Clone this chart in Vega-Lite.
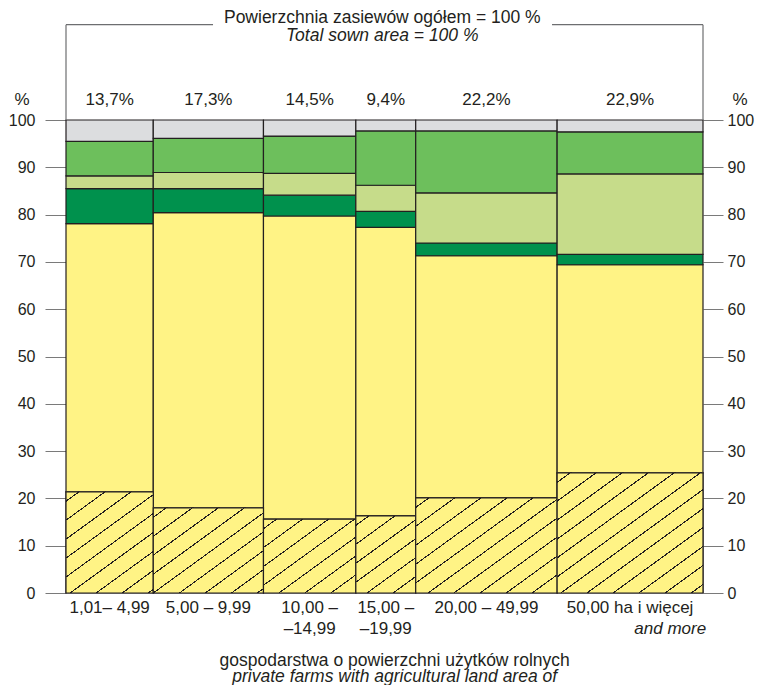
{
  "$schema": "https://vega.github.io/schema/vega-lite/v6.json",
  "width": 637,
  "height": 473,
  "autosize": {"type": "none"},
  "padding": {"left": 66, "top": 120, "right": 60, "bottom": 92},
  "background": "white",
  "config": {
    "view": {"stroke": null},
    "locale": {"number": {"decimal": ",", "thousands": " ", "grouping": [3], "currency": ["", " zł"]}},
    "text": {"font": "Liberation Sans", "fontSize": 17, "color": "#231f20"},
    "axis": {"labelFont": "Liberation Sans", "labelFontSize": 16, "labelColor": "#231f20"}
  },
  "datasets": {
    "farms": [
      {"farm": "1,01– 4,99", "order": 1, "share": 0.137, "cat": "pszenica", "corder": 1, "val": 21.4},
      {"farm": "1,01– 4,99", "order": 1, "share": 0.137, "cat": "pozostałe zboża", "corder": 2, "val": 56.7},
      {"farm": "1,01– 4,99", "order": 1, "share": 0.137, "cat": "ziemniaki", "corder": 3, "val": 7.4},
      {"farm": "1,01– 4,99", "order": 1, "share": 0.137, "cat": "przemysłowe", "corder": 4, "val": 2.7},
      {"farm": "1,01– 4,99", "order": 1, "share": 0.137, "cat": "pastewne", "corder": 5, "val": 7.3},
      {"farm": "1,01– 4,99", "order": 1, "share": 0.137, "cat": "pozostałe", "corder": 6, "val": 4.5},
      {"farm": "5,00 – 9,99", "order": 2, "share": 0.173, "cat": "pszenica", "corder": 1, "val": 18.0},
      {"farm": "5,00 – 9,99", "order": 2, "share": 0.173, "cat": "pozostałe zboża", "corder": 2, "val": 62.4},
      {"farm": "5,00 – 9,99", "order": 2, "share": 0.173, "cat": "ziemniaki", "corder": 3, "val": 5.1},
      {"farm": "5,00 – 9,99", "order": 2, "share": 0.173, "cat": "przemysłowe", "corder": 4, "val": 3.4},
      {"farm": "5,00 – 9,99", "order": 2, "share": 0.173, "cat": "pastewne", "corder": 5, "val": 7.2},
      {"farm": "5,00 – 9,99", "order": 2, "share": 0.173, "cat": "pozostałe", "corder": 6, "val": 3.9},
      {"farm": "10,00 –\n–14,99", "order": 3, "share": 0.145, "cat": "pszenica", "corder": 1, "val": 15.6},
      {"farm": "10,00 –\n–14,99", "order": 3, "share": 0.145, "cat": "pozostałe zboża", "corder": 2, "val": 64.1},
      {"farm": "10,00 –\n–14,99", "order": 3, "share": 0.145, "cat": "ziemniaki", "corder": 3, "val": 4.4},
      {"farm": "10,00 –\n–14,99", "order": 3, "share": 0.145, "cat": "przemysłowe", "corder": 4, "val": 4.6},
      {"farm": "10,00 –\n–14,99", "order": 3, "share": 0.145, "cat": "pastewne", "corder": 5, "val": 7.9},
      {"farm": "10,00 –\n–14,99", "order": 3, "share": 0.145, "cat": "pozostałe", "corder": 6, "val": 3.4},
      {"farm": "15,00 –\n–19,99", "order": 4, "share": 0.094, "cat": "pszenica", "corder": 1, "val": 16.3},
      {"farm": "15,00 –\n–19,99", "order": 4, "share": 0.094, "cat": "pozostałe zboża", "corder": 2, "val": 61.0},
      {"farm": "15,00 –\n–19,99", "order": 4, "share": 0.094, "cat": "ziemniaki", "corder": 3, "val": 3.4},
      {"farm": "15,00 –\n–19,99", "order": 4, "share": 0.094, "cat": "przemysłowe", "corder": 4, "val": 5.5},
      {"farm": "15,00 –\n–19,99", "order": 4, "share": 0.094, "cat": "pastewne", "corder": 5, "val": 11.5},
      {"farm": "15,00 –\n–19,99", "order": 4, "share": 0.094, "cat": "pozostałe", "corder": 6, "val": 2.3},
      {"farm": "20,00 – 49,99", "order": 5, "share": 0.222, "cat": "pszenica", "corder": 1, "val": 20.1},
      {"farm": "20,00 – 49,99", "order": 5, "share": 0.222, "cat": "pozostałe zboża", "corder": 2, "val": 51.2},
      {"farm": "20,00 – 49,99", "order": 5, "share": 0.222, "cat": "ziemniaki", "corder": 3, "val": 2.7},
      {"farm": "20,00 – 49,99", "order": 5, "share": 0.222, "cat": "przemysłowe", "corder": 4, "val": 10.6},
      {"farm": "20,00 – 49,99", "order": 5, "share": 0.222, "cat": "pastewne", "corder": 5, "val": 13.1},
      {"farm": "20,00 – 49,99", "order": 5, "share": 0.222, "cat": "pozostałe", "corder": 6, "val": 2.3},
      {"farm": "50,00 ha i więcej", "order": 6, "share": 0.229, "cat": "pszenica", "corder": 1, "val": 25.4},
      {"farm": "50,00 ha i więcej", "order": 6, "share": 0.229, "cat": "pozostałe zboża", "corder": 2, "val": 44.0},
      {"farm": "50,00 ha i więcej", "order": 6, "share": 0.229, "cat": "ziemniaki", "corder": 3, "val": 2.2},
      {"farm": "50,00 ha i więcej", "order": 6, "share": 0.229, "cat": "przemysłowe", "corder": 4, "val": 17.0},
      {"farm": "50,00 ha i więcej", "order": 6, "share": 0.229, "cat": "pastewne", "corder": 5, "val": 8.9},
      {"farm": "50,00 ha i więcej", "order": 6, "share": 0.229, "cat": "pozostałe", "corder": 6, "val": 2.5}
    ]
  },
  "resolve": {"axis": {"y": "independent"}},
  "layer": [
    {
      "data": {"name": "farms"},
      "transform": [
        {"stack": "share", "groupby": ["cat"], "sort": [{"field": "order"}], "as": ["x0", "x1"]},
        {"stack": "val", "groupby": ["farm"], "sort": [{"field": "corder"}], "as": ["y0", "y1"]},
        {"calculate": "(datum.x0 + datum.x1) / 2", "as": "xm"}
      ],
      "resolve": {"axis": {"y": "independent"}},
      "layer": [
        {
          "mark": {"type": "bar", "stroke": "#231f20", "strokeWidth": 1.2},
          "encoding": {
            "x": {"field": "x0", "type": "quantitative", "scale": {"domain": [0, 1], "nice": false}, "axis": null},
            "x2": {"field": "x1"},
            "y": {"field": "y0", "type": "quantitative", "scale": {"domain": [0, 100], "nice": false},
                  "axis": {"orient": "left", "values": [0, 10, 20, 30, 40, 50, 60, 70, 80, 90, 100], "title": null, "domain": false, "grid": false, "tickSize": 21, "tickColor": "#7a7a7a", "labelPadding": 10}},
            "y2": {"field": "y1"},
            "color": {"field": "cat", "type": "nominal", "legend": null,
                      "scale": {"domain": ["pszenica", "pozostałe zboża", "ziemniaki", "przemysłowe", "pastewne", "pozostałe"],
                                "range": ["#fff385", "#fff385", "#00914d", "#c6dc8a", "#6dbf5c", "#dcdddf"]}},
            "opacity": {"value": 1}
          }
        },
        {
          "transform": [{"filter": "datum.cat === 'pszenica' && datum.order === 1"}],
          "mark": {"type": "bar", "stroke": "#231f20", "strokeWidth": 1.2,
            "fill": {"gradient": "linear", "x1": 0, "y1": 0, "x2": 0.7325, "y2": 1.168, "stops": [
              {"offset": 0, "color": "#fff385"},
              {"offset": 0.0535, "color": "#fff385"}, {"offset": 0.0535, "color": "#231f20"}, {"offset": 0.0615, "color": "#231f20"}, {"offset": 0.0615, "color": "#fff385"},
              {"offset": 0.1685, "color": "#fff385"}, {"offset": 0.1685, "color": "#231f20"}, {"offset": 0.1765, "color": "#231f20"}, {"offset": 0.1765, "color": "#fff385"},
              {"offset": 0.2835, "color": "#fff385"}, {"offset": 0.2835, "color": "#231f20"}, {"offset": 0.2915, "color": "#231f20"}, {"offset": 0.2915, "color": "#fff385"},
              {"offset": 0.3985, "color": "#fff385"}, {"offset": 0.3985, "color": "#231f20"}, {"offset": 0.4065, "color": "#231f20"}, {"offset": 0.4065, "color": "#fff385"},
              {"offset": 0.5135, "color": "#fff385"}, {"offset": 0.5135, "color": "#231f20"}, {"offset": 0.5215, "color": "#231f20"}, {"offset": 0.5215, "color": "#fff385"},
              {"offset": 0.6285, "color": "#fff385"}, {"offset": 0.6285, "color": "#231f20"}, {"offset": 0.6365, "color": "#231f20"}, {"offset": 0.6365, "color": "#fff385"},
              {"offset": 0.7435, "color": "#fff385"}, {"offset": 0.7435, "color": "#231f20"}, {"offset": 0.7515, "color": "#231f20"}, {"offset": 0.7515, "color": "#fff385"},
              {"offset": 0.8585, "color": "#fff385"}, {"offset": 0.8585, "color": "#231f20"}, {"offset": 0.8665, "color": "#231f20"}, {"offset": 0.8665, "color": "#fff385"},
              {"offset": 0.9735, "color": "#fff385"}, {"offset": 0.9735, "color": "#231f20"}, {"offset": 0.9815, "color": "#231f20"}, {"offset": 0.9815, "color": "#fff385"},
              {"offset": 1, "color": "#fff385"}
            ]}},
          "encoding": {
            "x": {"field": "x0", "type": "quantitative"},
            "x2": {"field": "x1"},
            "y": {"field": "y0", "type": "quantitative",
                  "axis": {"orient": "right", "values": [0, 10, 20, 30, 40, 50, 60, 70, 80, 90, 100], "title": null, "domain": false, "grid": false, "tickSize": 20, "tickColor": "#7a7a7a", "labelPadding": 4}},
            "y2": {"field": "y1"}
          }
        },
        {
          "transform": [{"filter": "datum.cat === 'pszenica' && datum.order === 2"}],
          "mark": {"type": "bar", "stroke": "#231f20", "strokeWidth": 1.2,
            "fill": {"gradient": "linear", "x1": 0, "y1": 0, "x2": 0.969, "y2": 1.029, "stops": [
              {"offset": 0, "color": "#fff385"},
              {"offset": 0.053, "color": "#fff385"}, {"offset": 0.053, "color": "#231f20"}, {"offset": 0.061, "color": "#231f20"}, {"offset": 0.061, "color": "#fff385"},
              {"offset": 0.168, "color": "#fff385"}, {"offset": 0.168, "color": "#231f20"}, {"offset": 0.176, "color": "#231f20"}, {"offset": 0.176, "color": "#fff385"},
              {"offset": 0.282, "color": "#fff385"}, {"offset": 0.282, "color": "#231f20"}, {"offset": 0.290, "color": "#231f20"}, {"offset": 0.290, "color": "#fff385"},
              {"offset": 0.397, "color": "#fff385"}, {"offset": 0.397, "color": "#231f20"}, {"offset": 0.405, "color": "#231f20"}, {"offset": 0.405, "color": "#fff385"},
              {"offset": 0.511, "color": "#fff385"}, {"offset": 0.511, "color": "#231f20"}, {"offset": 0.519, "color": "#231f20"}, {"offset": 0.519, "color": "#fff385"},
              {"offset": 0.626, "color": "#fff385"}, {"offset": 0.626, "color": "#231f20"}, {"offset": 0.634, "color": "#231f20"}, {"offset": 0.634, "color": "#fff385"},
              {"offset": 0.740, "color": "#fff385"}, {"offset": 0.740, "color": "#231f20"}, {"offset": 0.748, "color": "#231f20"}, {"offset": 0.748, "color": "#fff385"},
              {"offset": 0.855, "color": "#fff385"}, {"offset": 0.855, "color": "#231f20"}, {"offset": 0.863, "color": "#231f20"}, {"offset": 0.863, "color": "#fff385"},
              {"offset": 0.969, "color": "#fff385"}, {"offset": 0.969, "color": "#231f20"}, {"offset": 0.977, "color": "#231f20"}, {"offset": 0.977, "color": "#fff385"},
              {"offset": 1, "color": "#fff385"}
            ]}},
          "encoding": {
            "x": {"field": "x0", "type": "quantitative"},
            "x2": {"field": "x1"},
            "y": {"field": "y0", "type": "quantitative", "axis": null},
            "y2": {"field": "y1"}
          }
        },
        {
          "transform": [{"filter": "datum.cat === 'pszenica' && datum.order === 3"}],
          "mark": {"type": "bar", "stroke": "#231f20", "strokeWidth": 1.2,
            "fill": {"gradient": "linear", "x1": 0, "y1": 0, "x2": 0.951, "y2": 1.045, "stops": [
              {"offset": 0, "color": "#fff385"},
              {"offset": 0.0625, "color": "#fff385"}, {"offset": 0.0625, "color": "#231f20"}, {"offset": 0.0715, "color": "#231f20"}, {"offset": 0.0715, "color": "#fff385"},
              {"offset": 0.1965, "color": "#fff385"}, {"offset": 0.1965, "color": "#231f20"}, {"offset": 0.2055, "color": "#231f20"}, {"offset": 0.2055, "color": "#fff385"},
              {"offset": 0.3305, "color": "#fff385"}, {"offset": 0.3305, "color": "#231f20"}, {"offset": 0.3395, "color": "#231f20"}, {"offset": 0.3395, "color": "#fff385"},
              {"offset": 0.4645, "color": "#fff385"}, {"offset": 0.4645, "color": "#231f20"}, {"offset": 0.4735, "color": "#231f20"}, {"offset": 0.4735, "color": "#fff385"},
              {"offset": 0.5985, "color": "#fff385"}, {"offset": 0.5985, "color": "#231f20"}, {"offset": 0.6075, "color": "#231f20"}, {"offset": 0.6075, "color": "#fff385"},
              {"offset": 0.7325, "color": "#fff385"}, {"offset": 0.7325, "color": "#231f20"}, {"offset": 0.7415, "color": "#231f20"}, {"offset": 0.7415, "color": "#fff385"},
              {"offset": 0.8665, "color": "#fff385"}, {"offset": 0.8665, "color": "#231f20"}, {"offset": 0.8755, "color": "#231f20"}, {"offset": 0.8755, "color": "#fff385"},
              {"offset": 1, "color": "#fff385"}
            ]}},
          "encoding": {
            "x": {"field": "x0", "type": "quantitative"},
            "x2": {"field": "x1"},
            "y": {"field": "y0", "type": "quantitative", "axis": null},
            "y2": {"field": "y1"}
          }
        },
        {
          "transform": [{"filter": "datum.cat === 'pszenica' && datum.order === 4"}],
          "mark": {"type": "bar", "stroke": "#231f20", "strokeWidth": 1.2,
            "fill": {"gradient": "linear", "x1": 0, "y1": 0, "x2": 0.670, "y2": 1.186, "stops": [
              {"offset": 0, "color": "#fff385"},
              {"offset": 0.073, "color": "#fff385"}, {"offset": 0.073, "color": "#231f20"}, {"offset": 0.084, "color": "#231f20"}, {"offset": 0.084, "color": "#fff385"},
              {"offset": 0.230, "color": "#fff385"}, {"offset": 0.230, "color": "#231f20"}, {"offset": 0.241, "color": "#231f20"}, {"offset": 0.241, "color": "#fff385"},
              {"offset": 0.387, "color": "#fff385"}, {"offset": 0.387, "color": "#231f20"}, {"offset": 0.398, "color": "#231f20"}, {"offset": 0.398, "color": "#fff385"},
              {"offset": 0.544, "color": "#fff385"}, {"offset": 0.544, "color": "#231f20"}, {"offset": 0.555, "color": "#231f20"}, {"offset": 0.555, "color": "#fff385"},
              {"offset": 0.701, "color": "#fff385"}, {"offset": 0.701, "color": "#231f20"}, {"offset": 0.712, "color": "#231f20"}, {"offset": 0.712, "color": "#fff385"},
              {"offset": 0.858, "color": "#fff385"}, {"offset": 0.858, "color": "#231f20"}, {"offset": 0.869, "color": "#231f20"}, {"offset": 0.869, "color": "#fff385"},
              {"offset": 1, "color": "#fff385"}
            ]}},
          "encoding": {
            "x": {"field": "x0", "type": "quantitative"},
            "x2": {"field": "x1"},
            "y": {"field": "y0", "type": "quantitative", "axis": null},
            "y2": {"field": "y1"}
          }
        },
        {
          "transform": [{"filter": "datum.cat === 'pszenica' && datum.order === 5"}],
          "mark": {"type": "bar", "stroke": "#231f20", "strokeWidth": 1.2,
            "fill": {"gradient": "linear", "x1": 0, "y1": 0, "x2": 1.037, "y2": 0.960, "stops": [
              {"offset": 0, "color": "#fff385"},
              {"offset": 0.0447, "color": "#fff385"}, {"offset": 0.0447, "color": "#231f20"}, {"offset": 0.0513, "color": "#231f20"}, {"offset": 0.0513, "color": "#fff385"},
              {"offset": 0.1397, "color": "#fff385"}, {"offset": 0.1397, "color": "#231f20"}, {"offset": 0.1463, "color": "#231f20"}, {"offset": 0.1463, "color": "#fff385"},
              {"offset": 0.2357, "color": "#fff385"}, {"offset": 0.2357, "color": "#231f20"}, {"offset": 0.2423, "color": "#231f20"}, {"offset": 0.2423, "color": "#fff385"},
              {"offset": 0.3317, "color": "#fff385"}, {"offset": 0.3317, "color": "#231f20"}, {"offset": 0.3383, "color": "#231f20"}, {"offset": 0.3383, "color": "#fff385"},
              {"offset": 0.4267, "color": "#fff385"}, {"offset": 0.4267, "color": "#231f20"}, {"offset": 0.4333, "color": "#231f20"}, {"offset": 0.4333, "color": "#fff385"},
              {"offset": 0.5227, "color": "#fff385"}, {"offset": 0.5227, "color": "#231f20"}, {"offset": 0.5293, "color": "#231f20"}, {"offset": 0.5293, "color": "#fff385"},
              {"offset": 0.6177, "color": "#fff385"}, {"offset": 0.6177, "color": "#231f20"}, {"offset": 0.6243, "color": "#231f20"}, {"offset": 0.6243, "color": "#fff385"},
              {"offset": 0.7137, "color": "#fff385"}, {"offset": 0.7137, "color": "#231f20"}, {"offset": 0.7203, "color": "#231f20"}, {"offset": 0.7203, "color": "#fff385"},
              {"offset": 0.8097, "color": "#fff385"}, {"offset": 0.8097, "color": "#231f20"}, {"offset": 0.8163, "color": "#231f20"}, {"offset": 0.8163, "color": "#fff385"},
              {"offset": 0.9047, "color": "#fff385"}, {"offset": 0.9047, "color": "#231f20"}, {"offset": 0.9113, "color": "#231f20"}, {"offset": 0.9113, "color": "#fff385"},
              {"offset": 1, "color": "#fff385"}
            ]}},
          "encoding": {
            "x": {"field": "x0", "type": "quantitative"},
            "x2": {"field": "x1"},
            "y": {"field": "y0", "type": "quantitative", "axis": null},
            "y2": {"field": "y1"}
          }
        },
        {
          "transform": [{"filter": "datum.cat === 'pszenica' && datum.order === 6"}],
          "mark": {"type": "bar", "stroke": "#231f20", "strokeWidth": 1.2,
            "fill": {"gradient": "linear", "x1": 0, "y1": 0, "x2": 0.934, "y2": 1.058, "stops": [
              {"offset": 0, "color": "#fff385"},
              {"offset": 0.039, "color": "#fff385"}, {"offset": 0.039, "color": "#231f20"}, {"offset": 0.045, "color": "#231f20"}, {"offset": 0.045, "color": "#fff385"},
              {"offset": 0.122, "color": "#fff385"}, {"offset": 0.122, "color": "#231f20"}, {"offset": 0.128, "color": "#231f20"}, {"offset": 0.128, "color": "#fff385"},
              {"offset": 0.206, "color": "#fff385"}, {"offset": 0.206, "color": "#231f20"}, {"offset": 0.212, "color": "#231f20"}, {"offset": 0.212, "color": "#fff385"},
              {"offset": 0.290, "color": "#fff385"}, {"offset": 0.290, "color": "#231f20"}, {"offset": 0.296, "color": "#231f20"}, {"offset": 0.296, "color": "#fff385"},
              {"offset": 0.373, "color": "#fff385"}, {"offset": 0.373, "color": "#231f20"}, {"offset": 0.379, "color": "#231f20"}, {"offset": 0.379, "color": "#fff385"},
              {"offset": 0.457, "color": "#fff385"}, {"offset": 0.457, "color": "#231f20"}, {"offset": 0.463, "color": "#231f20"}, {"offset": 0.463, "color": "#fff385"},
              {"offset": 0.540, "color": "#fff385"}, {"offset": 0.540, "color": "#231f20"}, {"offset": 0.546, "color": "#231f20"}, {"offset": 0.546, "color": "#fff385"},
              {"offset": 0.624, "color": "#fff385"}, {"offset": 0.624, "color": "#231f20"}, {"offset": 0.630, "color": "#231f20"}, {"offset": 0.630, "color": "#fff385"},
              {"offset": 0.708, "color": "#fff385"}, {"offset": 0.708, "color": "#231f20"}, {"offset": 0.714, "color": "#231f20"}, {"offset": 0.714, "color": "#fff385"},
              {"offset": 0.791, "color": "#fff385"}, {"offset": 0.791, "color": "#231f20"}, {"offset": 0.797, "color": "#231f20"}, {"offset": 0.797, "color": "#fff385"},
              {"offset": 0.875, "color": "#fff385"}, {"offset": 0.875, "color": "#231f20"}, {"offset": 0.881, "color": "#231f20"}, {"offset": 0.881, "color": "#fff385"},
              {"offset": 0.959, "color": "#fff385"}, {"offset": 0.959, "color": "#231f20"}, {"offset": 0.965, "color": "#231f20"}, {"offset": 0.965, "color": "#fff385"},
              {"offset": 1, "color": "#fff385"}
            ]}},
          "encoding": {
            "x": {"field": "x0", "type": "quantitative"},
            "x2": {"field": "x1"},
            "y": {"field": "y0", "type": "quantitative", "axis": null},
            "y2": {"field": "y1"}
          }
        },
        {
          "transform": [{"filter": "datum.cat === 'pozostałe'"}],
          "mark": {"type": "text", "baseline": "alphabetic", "align": "center"},
          "encoding": {
            "x": {"field": "xm", "type": "quantitative"},
            "y": {"datum": 103.2, "axis": null},
            "text": {"field": "share", "type": "quantitative", "format": ".1%"}
          }
        },
        {
          "transform": [{"filter": "datum.cat === 'pozostałe'"}],
          "mark": {"type": "text", "baseline": "alphabetic", "align": "center", "lineBreak": "\n", "lineHeight": 21},
          "encoding": {
            "x": {"field": "xm", "type": "quantitative"},
            "y": {"datum": -4.2, "axis": null},
            "text": {"field": "farm", "type": "nominal"}
          }
        }
      ]
    },
    {
      "data": {"values": [{}]},
      "layer": [
        {"mark": {"type": "rule", "color": "#6d6e70", "strokeWidth": 1.2}, "encoding": {"x": {"datum": 0}, "y": {"datum": 100, "axis": null}, "y2": {"datum": 120.15}}},
        {"mark": {"type": "rule", "color": "#6d6e70", "strokeWidth": 1.2}, "encoding": {"x": {"datum": 1}, "y": {"datum": 100, "axis": null}, "y2": {"datum": 120.15}}},
        {"mark": {"type": "rule", "color": "#6d6e70", "strokeWidth": 1.2}, "encoding": {"x": {"datum": 0}, "x2": {"datum": 0.2308}, "y": {"datum": 120.15, "axis": null}}},
        {"mark": {"type": "rule", "color": "#6d6e70", "strokeWidth": 1.2}, "encoding": {"x": {"datum": 0.763}, "x2": {"datum": 1}, "y": {"datum": 120.15, "axis": null}}},
        {"mark": {"type": "text", "baseline": "alphabetic", "align": "center", "fontSize": 17.5}, "encoding": {"x": {"datum": 0.4965}, "y": {"datum": 120.57, "axis": null}, "text": {"value": "Powierzchnia zasiewów ogółem = 100 %"}}},
        {"mark": {"type": "text", "baseline": "alphabetic", "align": "center", "fontStyle": "italic", "fontSize": 17.5}, "encoding": {"x": {"datum": 0.4965}, "y": {"datum": 116.77, "axis": null}, "text": {"value": "Total sown area = 100 %"}}},
        {"mark": {"type": "text", "baseline": "alphabetic", "align": "center"}, "encoding": {"x": {"datum": -0.069}, "y": {"datum": 103.2, "axis": null}, "text": {"value": "%"}}},
        {"mark": {"type": "text", "baseline": "alphabetic", "align": "center"}, "encoding": {"x": {"datum": 1.058}, "y": {"datum": 103.2, "axis": null}, "text": {"value": "%"}}},
        {"mark": {"type": "text", "baseline": "alphabetic", "align": "right", "fontStyle": "italic"}, "encoding": {"x": {"datum": 1.005}, "y": {"datum": -8.6, "axis": null}, "text": {"value": "and more"}}},
        {"mark": {"type": "text", "baseline": "alphabetic", "align": "center", "fontSize": 17.5}, "encoding": {"x": {"datum": 0.516}, "y": {"datum": -15.4, "axis": null}, "text": {"value": "gospodarstwa o powierzchni użytków rolnych"}}},
        {"mark": {"type": "text", "baseline": "alphabetic", "align": "center", "fontStyle": "italic", "fontSize": 17.5}, "encoding": {"x": {"datum": 0.516}, "y": {"datum": -18.85, "axis": null}, "text": {"value": "private farms with agricultural land area of"}}}
      ]
    }
  ]
}
